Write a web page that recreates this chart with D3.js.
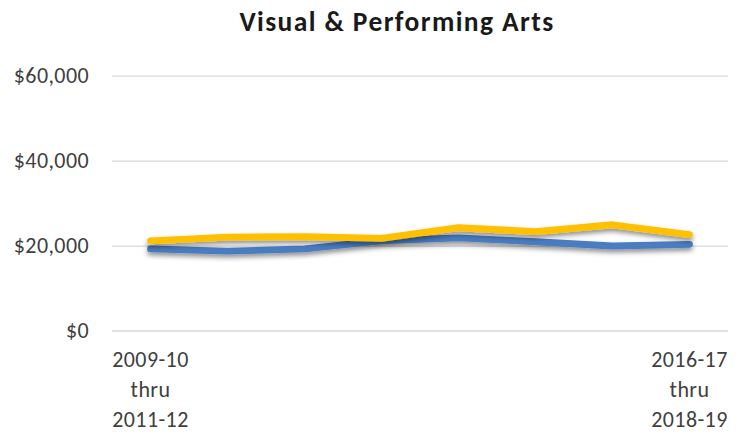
<!DOCTYPE html>
<html><head><meta charset="utf-8">
<script src="https://cdn.jsdelivr.net/npm/d3@7"></script>
<style>html,body{margin:0;padding:0;background:#fff;}svg{display:block;}</style>
</head><body>
<script>
const title = "Visual & Performing Arts";
const categories = ["2009-10 thru 2011-12","2010-11 thru 2012-13","2011-12 thru 2013-14","2012-13 thru 2014-15","2013-14 thru 2015-16","2014-15 thru 2016-17","2015-16 thru 2017-18","2016-17 thru 2018-19"];
const shownLabels = ["2009-10 thru 2011-12","2016-17 thru 2018-19"];
const seriesYellow = [21100, 22000, 22100, 21700, 24200, 23300, 24900, 22600];
const seriesBlue   = [19200, 18700, 19200, 21100, 21800, 20900, 19900, 20300];
const yTicks = [0, 20000, 40000, 60000];

const W = 741, H = 436;
const svg = d3.select("body").append("svg").attr("width", W).attr("height", H);
const defs = svg.append("defs");
const f = defs.append("filter").attr("id","sh").attr("x","-10%").attr("y","-100%").attr("width","120%").attr("height","300%");
f.append("feDropShadow").attr("dx",0).attr("dy",3).attr("stdDeviation",2.5).attr("flood-color","#000").attr("flood-opacity",0.45);

const x = d3.scalePoint().domain(categories).range([112, 728]).padding(0.5);
const y = d3.scaleLinear().domain([0, 60000]).range([330.5, 75.7]);

const font = "Calibri, Carlito, Lato, sans-serif";

svg.append("text").attr("x", 397).attr("y", 31).attr("text-anchor","middle")
  .attr("font-family", font).attr("font-weight","bold").attr("font-size", 27.5)
  .attr("letter-spacing", 1.4).attr("fill","#1a1a1a").text(title);

// gridlines + y labels
const yAxis = d3.axisLeft(y).tickValues(yTicks).tickSize(-(728-112)).tickPadding(23)
  .tickFormat(d => "$" + d3.format(",")(d));
const gy = svg.append("g").attr("transform","translate(112,0)").call(yAxis);
gy.select(".domain").remove();
gy.selectAll(".tick line").attr("stroke","#d9d9d9").attr("stroke-width",1.3);
gy.selectAll(".tick text").attr("font-family", font).attr("font-size", 22)
  .attr("letter-spacing", 0.4).attr("fill","#404040");

// x labels
const xl = svg.append("g");
shownLabels.forEach(lbl => {
  const parts = lbl.split(" ");
  const t = xl.append("text").attr("text-anchor","middle").attr("font-family", font)
    .attr("font-size", 22).attr("letter-spacing", 0.4).attr("fill","#404040");
  parts.forEach((p,i) => t.append("tspan").attr("x", x(lbl)).attr("y", 367 + i*30).text(p));
});

const line = d3.line().x((d,i) => x(categories[i])).y(d => y(d));
[[seriesBlue,"#4A7CC0"],[seriesYellow,"#FFC000"]].forEach(([s,c]) => {
  svg.append("path").datum(s).attr("d", line).attr("fill","none").attr("stroke", c)
    .attr("stroke-width", 6.8).attr("stroke-linecap","round").attr("stroke-linejoin","round")
    .attr("filter","url(#sh)");
});
</script>
</body></html>
